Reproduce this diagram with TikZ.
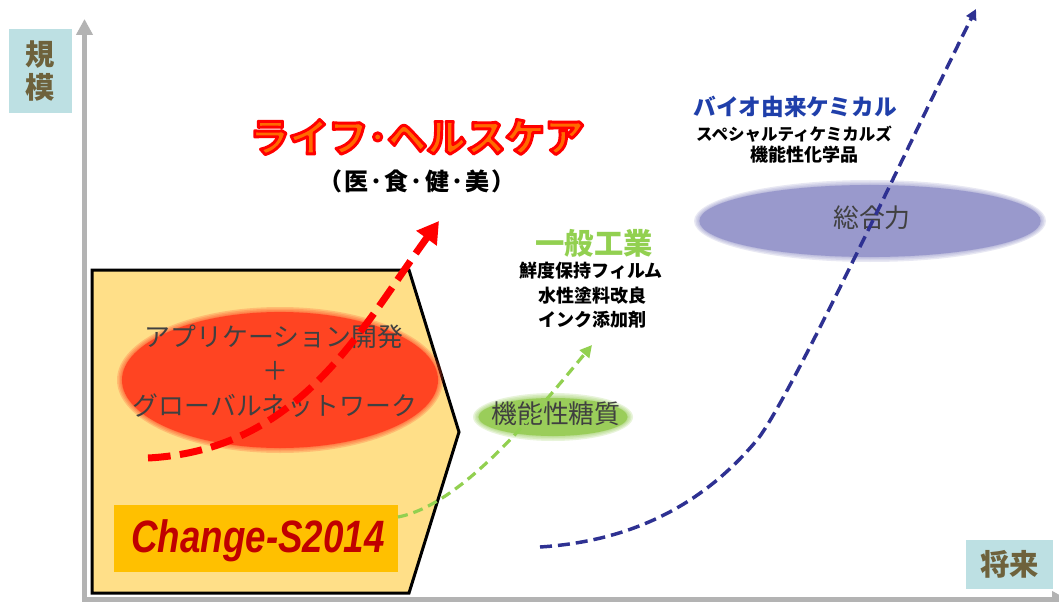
\documentclass[tikz,border=0pt]{standalone}
\usepackage{fontspec}
\usepackage{graphicx}
\setmainfont{Liberation Sans}
\newfontfamily\jp{Noto Sans CJK JP}
\usetikzlibrary{arrows.meta,shapes.geometric}
\definecolor{axisgray}{HTML}{B3B3B3}
\definecolor{labelbg}{HTML}{BDE0E3}
\definecolor{labeltxt}{HTML}{6E623C}
\definecolor{pentafill}{HTML}{FFDF88}
\definecolor{redell}{HTML}{FF4422}
\definecolor{orangebox}{HTML}{FFC000}
\definecolor{darkred}{HTML}{C00000}
\definecolor{lgreen}{HTML}{92D050}
\definecolor{greenell}{HTML}{9ACD5A}
\definecolor{purpleell}{HTML}{9999CC}
\definecolor{dblue}{HTML}{2E3192}
\definecolor{tblue}{HTML}{1F3FAA}
\definecolor{lhsorange}{HTML}{FF6A00}
\definecolor{txtgray}{HTML}{404040}
\tikzset{
  axisline/.style={draw=axisgray, line width=3.75pt, -{Triangle[length=12pt,width=12pt]}},
  labelbox/.style={fill=labelbg, text=labeltxt, inner sep=0pt, font=\jp\bfseries\fontsize{22}{25}\selectfont, align=center},
  softell/.style={ellipse, inner sep=0pt},
  elltext/.style={text=txtgray, inner sep=0pt, font=\jp\fontsize{19.4}{22}\selectfont},
  blacktext/.style={text=black, inner sep=0pt, font=\jp\bfseries\fontsize{13.5}{15}\selectfont},
  reddash/.style={draw=red, line width=5.25pt, dash pattern=on 17pt off 7pt, -{Triangle[length=16pt,width=18pt]}},
  greendash/.style={draw=lgreen, line width=2.4pt, dash pattern=on 7.5pt off 4.5pt, -{Triangle[length=9pt,width=9pt]}},
  bluedash/.style={draw=dblue, line width=2.6pt, dash pattern=on 9pt off 4.5pt, -{Triangle[length=8pt,width=8pt]}},
}
\newcommand{\halo}[4]{%
  \foreach \k in {5,3.5,2,0.8}{\fill[#4, opacity=0.22] (#1) ellipse [x radius=#2+\k, y radius=#3+\k];}%
}
\newcommand{\redoutline}[1]{\special{pdf:literal direct 1 0 0 RG 1 j 2.2 w 2 Tr}#1\special{pdf:literal direct 0 Tr}}
\newcommand{\ks}{\kern1.6pt}
\begin{document}
\begin{tikzpicture}[x=0.75pt,y=-0.75pt]
\clip (0,0) rectangle (1059,602);
\fill[white] (0,0) rectangle (1059,602);

% axes
\coordinate (yaxb) at (84.5,602);
\coordinate (yaxt) at (84.5,19);
\coordinate (xaxl) at (82,599.5);
\coordinate (xaxr) at (1068,599.5);
\draw[axisline] (yaxb) -- (yaxt);
\draw[axisline] (xaxl) -- (xaxr);

% axis labels
\node[labelbox, minimum width=47.25pt, minimum height=63pt] (scale) at (40.5,71) {規\\模};
\node[labelbox, minimum width=65.25pt, minimum height=36.75pt] (future) at (1009.5,564.5) {将来};

% pentagon
\coordinate (p1) at (92,270);
\coordinate (p2) at (409,270);
\coordinate (p3) at (459,432);
\coordinate (p4) at (409,593);
\coordinate (p5) at (92,593);
\draw[line width=2.25pt, fill=pentafill, line join=miter] (p1) -- (p2) -- (p3) -- (p4) -- (p5) -- cycle;

% red ellipse
\halo{280,380}{158}{68}{redell}
\node[softell, fill=redell, minimum width=237pt, minimum height=102pt] (redE) at (280,380) {};
\node[elltext] (app) at (274,337) {アプリケーション開発};
\node[elltext] (plus) at (275,371) {＋};
\node[elltext] (glob) at (275,406) {グローバルネットワーク};

% change box
\node[fill=orangebox, minimum width=213pt, minimum height=50.25pt, inner sep=0pt] (chg) at (256,538.5) {};
\node[text=darkred, inner sep=0pt, font=\bfseries\itshape\fontsize{34}{36}\selectfont] (chgt) at (258,541) {\scalebox{0.81}[1]{Change-S2014}};

% green ellipse
\halo{553,417}{75}{19}{greenell}
\node[softell, fill=greenell, minimum width=112pt, minimum height=28.5pt] (grE) at (553,417) {};
\node[elltext] (sugar) at (556,414) {機能性糖質};

% purple ellipse
\halo{870,221}{171}{36}{purpleell}
\node[softell, fill=purpleell, minimum width=256pt, minimum height=54pt] (puE) at (870,221) {};
\node[elltext] (sogo) at (872,218) {総合力};

% curves
\coordinate (rs) at (148,458);
\coordinate (re) at (439,221);
\draw[reddash] (rs) .. controls (300,450) and (360,330) .. (re);

\coordinate (gs) at (398,517);
\coordinate (ge) at (592,345);
\draw[greendash] (gs) .. controls (460,505) and (530,420) .. (ge);

\coordinate (bs) at (540,547);
\coordinate (bm) at (757,440);
\coordinate (be) at (976,9);
\draw[bluedash] (bs) .. controls (650,540) and (715,490) .. (bm) .. controls (790,400) and (925,110) .. (be);

% life health care title with red outline
\node[text=lhsorange, inner sep=0pt, font=\jp\bfseries\fontsize{29.5}{31}\selectfont] (lhs) at (417,137) {\redoutline{ライフ･ヘルスケア}};
\node[text=black, inner sep=0pt, font=\jp\bfseries\fontsize{18}{20}\selectfont] (ishoku) at (417,181) {（\ks 医\ks･\ks 食\ks･\ks 健\ks･\ks 美\ks）};

% bio chemical
\node[text=tblue, inner sep=0pt, font=\jp\bfseries\fontsize{17}{19}\selectfont] (bio) at (795,107) {バイオ由来ケミカル};
\node[blacktext, font=\jp\bfseries\fontsize{12.4}{14}\selectfont] (spec) at (794,134) {スペシャルティケミカルズ};
\node[blacktext, font=\jp\bfseries\fontsize{13.5}{15}\selectfont] (kinou) at (804,155) {機能性化学品};

% general industry
\node[text=lgreen, inner sep=0pt, font=\jp\bfseries\fontsize{22}{24}\selectfont] (ippan) at (594,243) {一般工業};
\node[blacktext] (sendo) at (591,271) {鮮度保持フィルム};
\node[blacktext] (suisei) at (592,296) {水性塗料改良};
\node[blacktext] (ink) at (592,320) {インク添加剤};
\end{tikzpicture}
\end{document}
